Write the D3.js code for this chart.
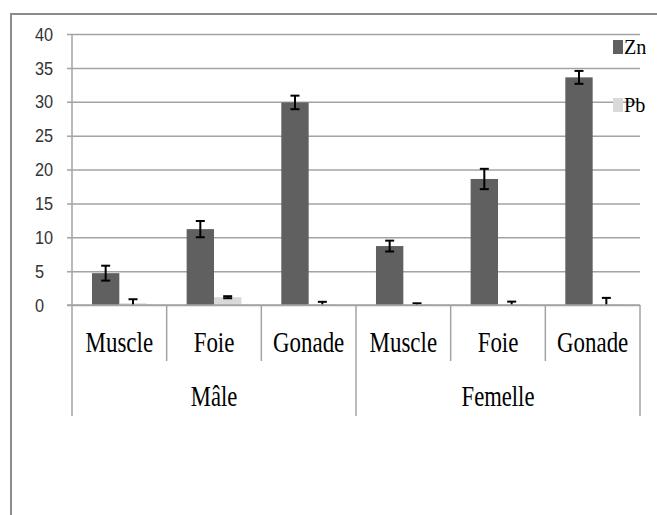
<!DOCTYPE html>
<html>
<head>
<meta charset="utf-8">
<script src="https://cdn.jsdelivr.net/npm/d3@7"></script>
<style>
  body { margin: 0; background: #fff; }
  .serif { font-family: "Liberation Serif", "Times New Roman", serif; }
</style>
</head>
<body>
<div id="chart"></div>
<script>
// Data
const groups = ['Mâle', 'Femelle'];
const organs = ['Muscle', 'Foie', 'Gonade'];
const series = ['Zn', 'Pb'];
const znValues = [4.7, 11.2, 29.9, 8.7, 18.6, 33.6];
const znErrors = [1.1, 1.2, 1.0, 0.8, 1.5, 0.95];
const pbValues = [0.25, 1.15, 0.12, 0.1, 0.1, 0.15];
const pbErrors = [0.6, 0.15, 0.35, 0.15, 0.4, 0.9];
const yTicks = [0, 5, 10, 15, 20, 25, 30, 35, 40];
const colors = { Zn: '#606060', Pb: '#d9d9d9' };

const width = 657;
const height = 515;

// Plot area
const plotLeft = 72;
const plotRight = 640;
const plotTop = 34;
const plotBottom = 305;

const svg = d3.select('#chart')
  .append('svg')
  .attr('width', width)
  .attr('height', height);

// outer frame (only top and left edges are visible)
svg.append('line')
  .attr('x1', 10).attr('x2', width)
  .attr('y1', 14).attr('y2', 14)
  .style('stroke', '#8c8c8c').style('stroke-width', 2);
svg.append('line')
  .attr('x1', 11).attr('x2', 11)
  .attr('y1', 14).attr('y2', height)
  .style('stroke', '#8c8c8c').style('stroke-width', 2);

// categories: group x organ
const categories = [];
groups.forEach((g) => {
  organs.forEach((o) => categories.push({ key: g + '-' + o, group: g, organ: o }));
});

const x0 = d3.scaleBand()
  .domain(categories.map(d => d.key))
  .range([plotLeft, plotRight]);

const x1 = d3.scaleBand()
  .domain(series)
  .range([0, x0.bandwidth()])
  .paddingOuter(0.73);

const y = d3.scaleLinear()
  .domain([0, 40])
  .range([plotBottom, plotTop]);

// gridlines
const grid = svg.append('g')
  .attr('transform', `translate(${plotRight},0)`)
  .call(d3.axisLeft(y).tickValues(yTicks).tickSize(plotRight - plotLeft + 5).tickFormat(''));
grid.select('.domain').remove();
grid.selectAll('line').style('stroke', '#a3a3a3').style('stroke-width', 1.5);

// y axis line
svg.append('line')
  .attr('x1', plotLeft).attr('x2', plotLeft)
  .attr('y1', y(40)).attr('y2', plotBottom)
  .style('stroke', '#a3a3a3').style('stroke-width', 1.5);

// y tick labels (left aligned like the original)
svg.selectAll('.ylab')
  .data(yTicks)
  .enter().append('text')
  .attr('class', 'ylab')
  .attr('transform', d => `translate(35,${y(d)}) scale(0.88,1)`)
  .attr('dy', '0.36em')
  .style('font-family', '"Liberation Sans", Arial, sans-serif')
  .style('font-size', '18.5px')
  .style('fill', '#333')
  .text(d => d);

// bar data
const barData = [];
categories.forEach((c, i) => {
  barData.push({ key: c.key, s: 'Zn', v: znValues[i], e: znErrors[i] });
  barData.push({ key: c.key, s: 'Pb', v: pbValues[i], e: pbErrors[i] });
});

svg.selectAll('.bar')
  .data(barData)
  .enter().append('rect')
  .attr('class', 'bar')
  .attr('x', d => x0(d.key) + x1(d.s))
  .attr('y', d => y(d.v))
  .attr('width', x1.bandwidth())
  .attr('height', d => plotBottom - y(d.v))
  .style('fill', d => colors[d.s]);

// error bars
const capHalf = 4.5;
const err = svg.selectAll('.err')
  .data(barData)
  .enter().append('g')
  .attr('class', 'err')
  .style('stroke', '#000')
  .style('stroke-width', 2);

err.append('line')
  .attr('x1', d => x0(d.key) + x1(d.s) + x1.bandwidth() / 2)
  .attr('x2', d => x0(d.key) + x1(d.s) + x1.bandwidth() / 2)
  .attr('y1', d => y(d.v + d.e))
  .attr('y2', d => y(Math.max(0, d.v - d.e)));

err.append('line')
  .attr('x1', d => x0(d.key) + x1(d.s) + x1.bandwidth() / 2 - capHalf)
  .attr('x2', d => x0(d.key) + x1(d.s) + x1.bandwidth() / 2 + capHalf)
  .attr('y1', d => y(d.v + d.e))
  .attr('y2', d => y(d.v + d.e));

err.filter(d => d.v - d.e > 0)
  .append('line')
  .attr('x1', d => x0(d.key) + x1(d.s) + x1.bandwidth() / 2 - capHalf)
  .attr('x2', d => x0(d.key) + x1(d.s) + x1.bandwidth() / 2 + capHalf)
  .attr('y1', d => y(d.v - d.e))
  .attr('y2', d => y(d.v - d.e));

// baseline
svg.append('line')
  .attr('x1', plotLeft - 5).attr('x2', plotRight)
  .attr('y1', plotBottom).attr('y2', plotBottom)
  .style('stroke', '#a3a3a3').style('stroke-width', 1.5);

// category separators
const sepColor = '#a3a3a3';
categories.forEach((c, i) => {
  const xs = x0(c.key);
  const isGroupStart = i % organs.length === 0;
  svg.append('line')
    .attr('x1', xs).attr('x2', xs)
    .attr('y1', plotBottom).attr('y2', isGroupStart ? 416 : 361)
    .style('stroke', sepColor).style('stroke-width', 1.5);
});
svg.append('line')
  .attr('x1', plotRight).attr('x2', plotRight)
  .attr('y1', plotBottom).attr('y2', 416)
  .style('stroke', sepColor).style('stroke-width', 1.5);

// organ labels
svg.selectAll('.organ')
  .data(categories)
  .enter().append('text')
  .attr('class', 'organ serif')
  .attr('transform', d => `translate(${x0(d.key) + x0.bandwidth() / 2},352) scale(0.79,1)`)
  .attr('text-anchor', 'middle')
  .style('font-size', '29px')
  .style('fill', '#000')
  .text(d => d.organ);

// group labels
svg.selectAll('.grp')
  .data(groups)
  .enter().append('text')
  .attr('class', 'grp serif')
  .attr('transform', (g) => {
    const first = x0(g + '-' + organs[0]);
    const last = x0(g + '-' + organs[organs.length - 1]) + x0.bandwidth();
    return `translate(${(first + last) / 2},406) scale(0.78,1)`;
  })
  .attr('text-anchor', 'middle')
  .style('font-size', '29px')
  .style('fill', '#000')
  .text(d => d);

// legend
const legendY = [40, 98];
const legend = svg.selectAll('.legend')
  .data(series)
  .enter().append('g')
  .attr('class', 'legend')
  .attr('transform', (d, i) => `translate(613,${legendY[i]})`);

legend.append('rect')
  .attr('width', 10)
  .attr('height', 14)
  .style('fill', d => colors[d]);

legend.append('text')
  .attr('class', 'serif')
  .attr('transform', 'translate(11,14) scale(0.92,1)')
  .style('font-size', '22px')
  .style('fill', '#000')
  .text(d => d);
</script>
</body>
</html>
